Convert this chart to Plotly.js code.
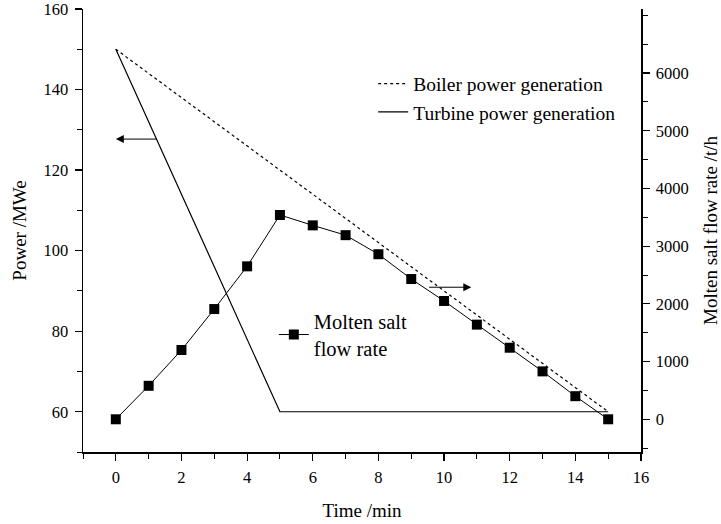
<!DOCTYPE html>
<html>
<head>
<meta charset="utf-8">
<script src="https://cdn.plot.ly/plotly-3.0.1.min.js"></script>
<style>html,body{margin:0;padding:0;background:#fff}#chart{width:721px;height:524px}</style>
</head>
<body>
<div id="chart"></div>
<script>
// Data
const boilerTime = [0, 15];
const boilerPower = [150, 60];
const turbineTime = [0, 5, 15];
const turbinePower = [150, 60, 60];
const saltTime = [0, 1, 2, 3, 4, 5, 6, 7, 8, 9, 10, 11, 12, 13, 14, 15];
const saltFlow = [0, 580, 1200, 1910, 2650, 3540, 3360, 3190, 2860, 2430, 2050, 1640, 1240, 830, 400, 0];
const powerTicks = [60, 80, 100, 120, 140, 160];
const flowTicks = [0, 1000, 2000, 3000, 4000, 5000, 6000];
const timeTicks = [0, 2, 4, 6, 8, 10, 12, 14, 16];

const FONT = 'Liberation Serif, Times New Roman, serif';

const traces = [
  {x: boilerTime, y: boilerPower, name: 'Boiler power generation', mode: 'lines',
   line: {color: '#000', width: 1.2, dash: 'dot'}, yaxis: 'y', legend: 'legend'},
  {x: turbineTime, y: turbinePower, name: 'Turbine power generation', mode: 'lines',
   line: {color: '#000', width: 1.2}, yaxis: 'y', legend: 'legend'},
  {x: saltTime, y: saltFlow, name: 'Molten salt<br>flow rate', mode: 'lines+markers',
   line: {color: '#000', width: 1}, marker: {symbol: 'square', size: 10, color: '#000'},
   yaxis: 'y2', legend: 'legend2'}
];

const axisCommon = {
  showgrid: false, zeroline: false, showline: true, linecolor: '#000', linewidth: 1.5,
  ticks: 'outside', ticklen: 7, tickwidth: 1.2, tickcolor: '#000', ticklabelstandoff: 3,
  ticklabeloverflow: 'allow',
  tickfont: {family: FONT, size: 16.5, color: '#000'}
};

const layout = {
  width: 721, height: 524,
  margin: {l: 83, r: 80, t: 9, b: 72, pad: 0},
  paper_bgcolor: '#fff', plot_bgcolor: '#fff',
  font: {family: FONT, color: '#000'},
  xaxis: Object.assign({}, axisCommon, {
    range: [-1, 16], tickmode: 'array', tickvals: timeTicks,
    minor: {dtick: 1, tick0: 0, ticks: 'outside', ticklen: 5, tickwidth: 1, tickcolor: '#000', showgrid: false},
    title: {text: 'Time /min', font: {family: FONT, size: 19}, standoff: 17}
  }),
  yaxis: Object.assign({}, axisCommon, {
    range: [50, 160], tickmode: 'array', tickvals: powerTicks,
    minor: {dtick: 10, tick0: 50, ticks: 'outside', ticklen: 5, tickwidth: 1, tickcolor: '#000', showgrid: false},
    title: {text: 'Power /MWe', font: {family: FONT, size: 19}, standoff: 12}
  }),
  yaxis2: Object.assign({}, axisCommon, {
    overlaying: 'y', side: 'right', anchor: 'x',
    range: [-567, 7109], tickmode: 'array', tickvals: flowTicks,
    minor: {dtick: 500, tick0: 0, ticks: 'outside', ticklen: 5, tickwidth: 1, tickcolor: '#000', showgrid: false},
    title: {text: 'Molten salt flow rate /t/h', font: {family: FONT, size: 19}, standoff: 18}
  }),
  showlegend: true,
  legend: {x: 0.52, y: 0.875, xanchor: 'left', yanchor: 'top', bgcolor: 'rgba(0,0,0,0)',
           font: {family: FONT, size: 19.5, color: '#000'}},
  legend2: {x: 0.342, y: 0.34, xanchor: 'left', yanchor: 'top', bgcolor: 'rgba(0,0,0,0)',
            font: {family: FONT, size: 20.5, color: '#000'}},
  annotations: [
    {x: 0, y: 127.7, xref: 'x', yref: 'y', ax: 1.29, ay: 127.7, axref: 'x', ayref: 'y',
     text: '', showarrow: true, arrowhead: 2, arrowsize: 1.6, arrowwidth: 1, arrowcolor: '#000'},
    {x: 10.83, y: 2288, xref: 'x', yref: 'y2', ax: 9.5, ay: 2288, axref: 'x', ayref: 'y2',
     text: '', showarrow: true, arrowhead: 2, arrowsize: 1.6, arrowwidth: 1, arrowcolor: '#000'}
  ]
};

Plotly.newPlot('chart', traces, layout, {displayModeBar: false, staticPlot: true});
</script>
</body>
</html>
